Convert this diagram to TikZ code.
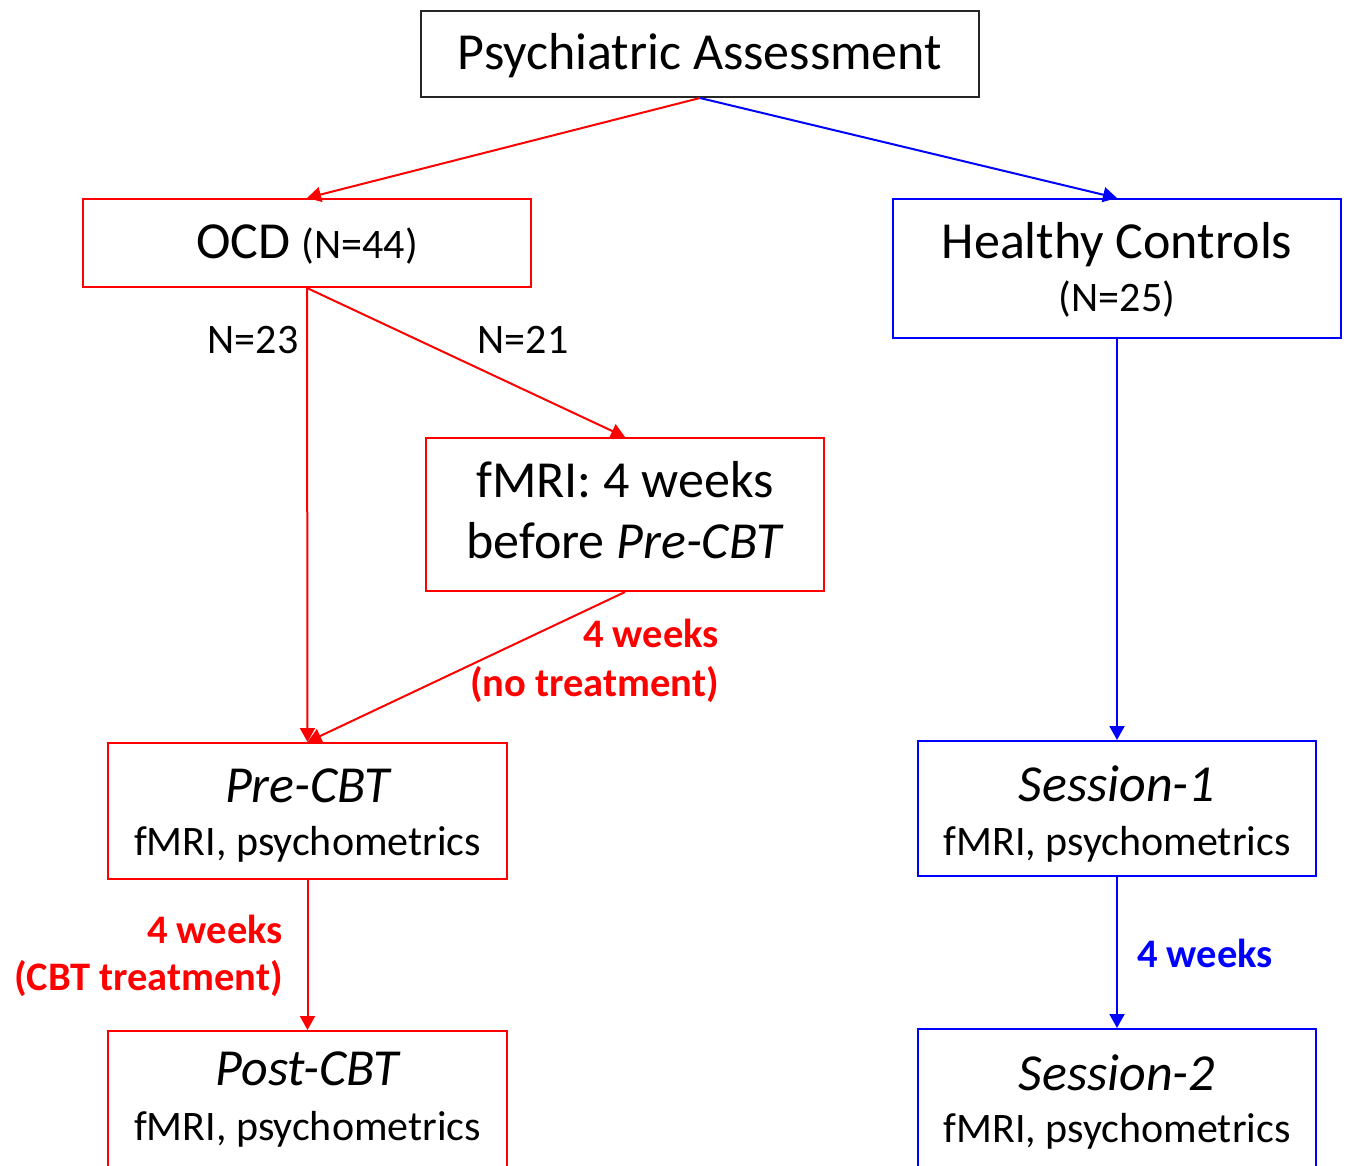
\documentclass[tikz,border=0pt]{standalone}
\usepackage{fontspec}
\setmainfont{Carlito}
\usetikzlibrary{arrows.meta}
\definecolor{ocdred}{RGB}{255,0,0}
\definecolor{hcblue}{RGB}{0,0,255}
\newcommand\fbig{\fontsize{52}{60}\selectfont}
\newcommand\fsml{\fontsize{42}{50}\selectfont}
\newcommand\flab{\fontsize{40.5}{48}\selectfont\bfseries}
\tikzset{
  box/.style={draw, line width=2pt, inner sep=0pt},
  redbox/.style={box, draw=ocdred},
  bluebox/.style={box, draw=hcblue},
  txt/.style={anchor=base, inner sep=0pt, text=black},
  lab/.style={anchor=base, inner sep=0pt, font=\flab},
  conn/.style={line width=2pt, -{Triangle[length=14pt,width=15pt]}},
  redarrow/.style={conn, draw=ocdred, fill=ocdred},
  bluearrow/.style={conn, draw=hcblue, fill=hcblue},
}
\begin{document}
\begin{tikzpicture}[x=1pt,y=-1pt]
\useasboundingbox (0,0) rectangle (1347,1165);
\clip (0,0) rectangle (1347,1165);
\fill[white] (0,0) rectangle (1347,1165);

% boxes
\node[box, draw=black!85, minimum width=558pt, minimum height=86pt] (pa) at (700,54) {};
\node[redbox, minimum width=448pt, minimum height=88pt] (ocd) at (307,243) {};
\node[bluebox, minimum width=448pt, minimum height=139pt] (hc) at (1117,268.5) {};
\node[redbox, minimum width=398pt, minimum height=153pt] (fmri) at (625,514.5) {};
\node[redbox, minimum width=399pt, minimum height=136pt] (pre) at (307.5,811) {};
\node[redbox, minimum width=399pt, minimum height=150pt] (post) at (307.5,1106) {};
\node[bluebox, minimum width=398pt, minimum height=135pt] (s1) at (1117,808.5) {};
\node[bluebox, minimum width=398pt, minimum height=150pt] (s2) at (1117,1104) {};

% box texts
\node[txt, font=\fbig] (pa-t) at (700,69) {Psychiatric Assessment};
\node[txt, font=\fbig] (ocd-t) at (307,258) {OCD {\fsml (N=44)}};
\node[txt, font=\fbig] (hc-t1) at (1117,258) {Healthy Controls};
\node[txt, font=\fsml] (hc-t2) at (1117,311) {(N=25)};
\node[txt, font=\fbig] (fmri-t1) at (625,497) {fMRI: 4 weeks};
\node[txt, font=\fbig] (fmri-t2) at (625,558) {before \textit{Pre-CBT}};
\node[txt, font=\fbig\itshape] (pre-t1) at (307.5,802) {Pre-CBT};
\node[txt, font=\fsml] (pre-t2) at (307.5,855) {fMRI, psychometrics};
\node[txt, font=\fbig\itshape] (post-t1) at (307.5,1085) {Post-CBT};
\node[txt, font=\fsml] (post-t2) at (307.5,1140) {fMRI, psychometrics};
\node[txt, font=\fbig\itshape] (s1-t1) at (1117,801) {Session-1};
\node[txt, font=\fsml] (s1-t2) at (1117,855) {fMRI, psychometrics};
\node[txt, font=\fbig\itshape] (s2-t1) at (1117,1090) {Session-2};
\node[txt, font=\fsml] (s2-t2) at (1117,1142) {fMRI, psychometrics};

% connectors
\draw[redarrow] (pa.south) -- (ocd.north);
\draw[bluearrow] (pa.south) -- (hc.north);
\draw[redarrow] (ocd.south) -- (pre.north);
\draw[redarrow] (ocd.south) -- (fmri.north);
\draw[redarrow] (fmri.south) -- (pre.north);
\draw[redarrow] (pre.south) -- (post.north);
\draw[bluearrow] (hc.south) -- (s1.north);
\draw[bluearrow] (s1.south) -- (s2.north);

% connector labels
\node[txt, font=\fsml] (n23) at (253,353) {N=23};
\node[txt, font=\fsml] (n21) at (523,353) {N=21};
\node[lab, text=ocdred, anchor=base east] (nt1) at (719,647) {4 weeks};
\node[lab, text=ocdred, anchor=base east] (nt2) at (719,696) {(no treatment)};
\node[lab, text=ocdred, anchor=base east] (ct1) at (283,943) {4 weeks};
\node[lab, text=ocdred, anchor=base east] (ct2) at (283,990) {(CBT treatment)};
\node[lab, text=hcblue, anchor=base west] (bw) at (1137,967) {4 weeks};
\end{tikzpicture}
\end{document}
